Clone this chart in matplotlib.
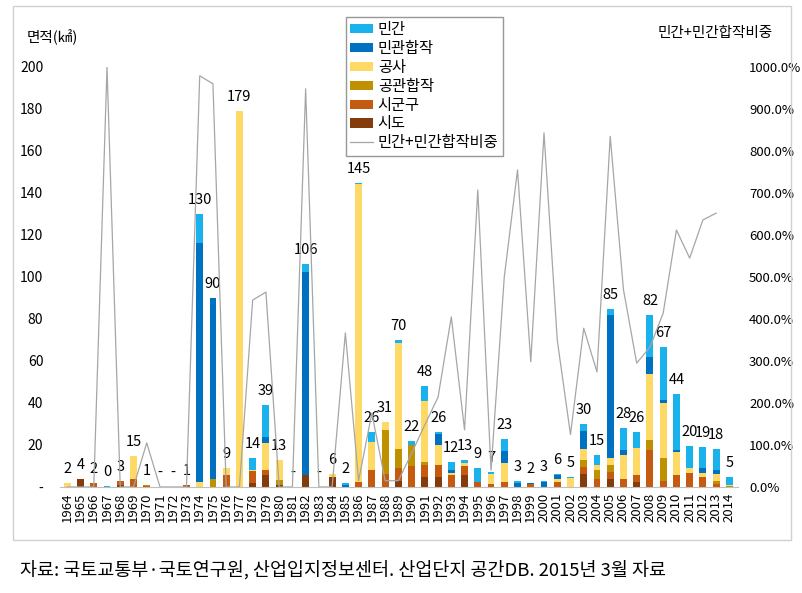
import numpy as np
import matplotlib
matplotlib.use("Agg")
import matplotlib.pyplot as plt
from matplotlib.patches import Rectangle
from matplotlib.lines import Line2D

plt.rcParams['font.family'] = ['Noto Sans CJK KR', 'DejaVu Sans']

# 연도
years = list(range(1964, 2015))

# 주체별 면적 (㎢), 그림에서 읽은 값
sido     = [0, 3.6, 0, 0, 1, 0, 0, 0, 0, 0, 0, 0, 0, 0, 2, 5.5, 1, 0, 5.5, 0, 5, 0, 0, 0, 0, 3, 0, 4.8, 4.8, 0, 5.5, 0, 0, 0, 0, 0, 0, 0, 0, 6, 0, 4, 0, 2.2, 0, 0, 0, 0, 0, 0, 0]
sigungu  = [0, 0.4, 2, 0, 2, 4, 0.3, 0, 0, 1, 0, 0, 5.5, 0, 5.5, 2.5, 0, 0, 0, 0, 0, 0, 2.5, 8.2, 6, 6, 10, 5.5, 5.5, 5.5, 4.5, 2.5, 1.5, 2.5, 0, 1.5, 0, 2.4, 0, 3.5, 4, 3.2, 3.7, 3.5, 17.6, 2.9, 5.7, 6.5, 4.9, 1.4, 0]
gonggwan = [0, 0, 0, 0, 0, 0, 0.5, 0, 0, 0, 0, 4, 0, 0, 0, 0, 2.5, 0, 0, 0, 0, 0, 0, 0, 21, 9, 10, 1.6, 0, 0, 0, 0, 0, 0, 0, 0, 0, 0, 0, 3.2, 4, 3.2, 0, 0, 5, 11.1, 0, 0, 0, 1.4, 0.5]
gongsa   = [2, 0, 0, 0, 0, 11, 0, 0, 0, 0, 2.5, 0, 3.5, 179, 0.5, 13, 9.5, 0, 0, 0, 1, 0, 142, 13, 4, 50.5, 0, 29, 9.5, 1, 1.5, 0, 4.5, 9, 0, 0, 0, 1.6, 4.4, 5.5, 2.4, 3.5, 11.4, 12.7, 31, 26.2, 11, 2.4, 1.9, 3.3, 0.5]
mingwan  = [0, 0, 0, 0, 0, 0, 0, 0, 0, 0, 113.5, 86, 0, 0, 0, 3, 0, 0, 97, 0, 0, 0.8, 0, 0, 0, 0, 0, 0, 5.5, 1.5, 0, 0, 0, 5.5, 2, 0.5, 2.5, 1.6, 0, 8.7, 0, 68, 2.4, 0, 8.4, 1.3, 1, 0, 2.4, 2.2, 0]
mingan   = [0, 0, 0, 0.3, 0, 0, 0.3, 0, 0, 0, 14, 0, 0, 0, 6, 15, 0, 0, 3.5, 0, 0, 1.2, 0.5, 4.8, 0, 1.5, 2, 7, 0.7, 4, 1.5, 6.5, 1, 6, 1, 0, 0.5, 0.4, 0.6, 3.1, 4.8, 3, 10.5, 7.9, 19.8, 25.4, 26.5, 10.8, 10, 9.7, 3.7]

# 막대 위 합계 라벨
totals = [2, 4, 2, 0.3, 3, 15, 1, 0, 0, 1, 130, 90, 9, 179, 14, 39, 13, 0, 106, 0, 6, 2, 145, 26, 31, 70, 22, 48, 26, 12, 13, 9, 7, 23, 3, 2, 3, 6, 5, 30, 15, 85, 28, 26, 82, 67, 44, 20, 19, 18, 5]

# 민간+민간합작 비중 (%)
share = [0, 0, 0, 1000, 0, 0, 105, 0, 0, 0, 979, 960, 0, 0, 445, 464, 0, 0, 948, 0, 0, 367, 15, 176, 15, 15, 80, 148, 214, 405, 136, 707, 40, 500, 755, 298, 843, 350, 125, 378, 274, 835, 470, 295, 333, 414, 612, 545, 636, 652, np.nan]

series = [
    ("시도", sido, "#843c0c"),
    ("시군구", sigungu, "#c55a11"),
    ("공관합작", gonggwan, "#bf9000"),
    ("공사", gongsa, "#ffd966"),
    ("민관합작", mingwan, "#0070c0"),
    ("민간", mingan, "#1ab2ec"),
]

fig = plt.figure(figsize=(8.02, 5.93), dpi=100)
ax = fig.add_axes([60 / 802, 1 - 487 / 593, 678 / 802, 420 / 593])

x = np.arange(len(years))
bottom = np.zeros(len(years))
handles = {}
for name, vals, col in series:
    vals = np.array(vals, dtype=float)
    b = ax.bar(x, vals, 0.52, bottom=bottom, color=col, label=name)
    handles[name] = b
    bottom += vals

for i, t in enumerate(totals):
    txt = "-" if t == 0 else f"{t:.0f}"
    ax.annotate(txt, (x[i], bottom[i]), xytext=(0, 5), textcoords="offset points",
                ha="center", va="bottom", fontsize=10.5)

ax.set_xlim(-0.55, 50.65)
ax.set_ylim(0, 200)
ax.set_yticks(range(0, 201, 20))
ax.set_yticklabels(["-"] + [str(v) for v in range(20, 201, 20)], fontsize=10)
ax.set_xticks(x)
ax.set_xticklabels([str(y) for y in years], rotation=90, fontsize=9.5)
ax.tick_params(length=0, pad=4)
ax.tick_params(axis="y", pad=12)
for s in ["top", "right", "left"]:
    ax.spines[s].set_visible(False)
ax.spines["bottom"].set_color("#bfbfbf")

ax2 = ax.twinx()
ax2.plot(x, share, color="#a6a6a6", lw=0.9)
ax2.set_ylim(0, 1000)
ax2.set_yticks(range(0, 1001, 100))
ax2.set_yticklabels([f"{v:.1f}%" for v in range(0, 1001, 100)], fontsize=9.5)
ax2.tick_params(length=0, pad=8)
for s in ["top", "right", "left", "bottom"]:
    ax2.spines[s].set_visible(False)

fig.text(27 / 802, 1 - 37 / 593, "면적(㎢)", fontsize=10.5, va="center")
fig.text(658 / 802, 1 - 33 / 593, "민간+민간합작비중", fontsize=10.5, va="center")

order = ["민간", "민관합작", "공사", "공관합작", "시군구", "시도"]
leg_h = [handles[n] for n in order] + [Line2D([], [], color="#a6a6a6", lw=0.9)]
leg = fig.legend(leg_h, order + ["민간+민간합작비중"], loc="upper left",
                 bbox_to_anchor=(338 / 802, 1 - 9 / 593), fontsize=11,
                 fancybox=False, frameon=True, handlelength=1.5, handleheight=0.55,
                 handletextpad=0.3, labelspacing=0.12, borderpad=0.3)
leg.get_frame().set_edgecolor("#7f7f7f")
leg.get_frame().set_linewidth(1.0)

fig.patches.append(Rectangle((13 / 802, 1 - 540 / 593), 778 / 802, 534 / 593,
                             transform=fig.transFigure, fill=False,
                             edgecolor="#d0d0d0", lw=1))

fig.text(20 / 802, 1 - 570 / 593,
         "자료: 국토교통부·국토연구원, 산업입지정보센터. 산업단지 공간DB. 2015년 3월 자료",
         fontsize=13.3, va="center")

fig.savefig("out.png", dpi=100)
